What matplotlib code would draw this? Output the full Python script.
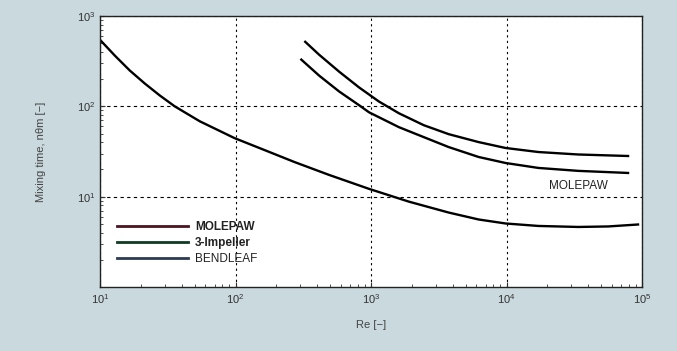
import matplotlib
matplotlib.use('Agg')
import matplotlib.pyplot as plt
from matplotlib.lines import Line2D
from matplotlib.ticker import LogLocator, LogFormatterMathtext, NullFormatter

plt.rcParams['font.family'] = ['Liberation Sans', 'DejaVu Sans']

# values (log-log)
re_bend = [10, 12.9, 16.6, 21.4, 27.6, 35.6, 54.4, 98.3, 163, 272, 491, 967, 1903,
           3745, 6225, 9830, 17190, 33840, 56230, 93460]
t_bend = [545, 363, 249, 179, 132, 100, 68.4, 44.5, 32.9, 24.2, 17.4, 12.2, 8.81,
          6.67, 5.59, 5.05, 4.74, 4.62, 4.68, 4.92]

re_imp = [327, 414, 582, 816, 1145, 1607, 2453, 3745, 6225, 9830, 17190, 33840, 78900]
t_imp = [518, 373, 242, 162, 113, 83.8, 61.8, 49.2, 40.2, 34.6, 31.2, 29.3, 28.2]

re_mole = [306, 414, 582, 816, 967, 1607, 2453, 3745, 6225, 9830, 17190, 33840, 78900]
t_mole = [329, 219, 146, 103, 85.9, 58.8, 45.6, 35.4, 27.5, 23.6, 20.8, 19.3, 18.3]

legend_names = ['MOLEPAW', '3-Impeller', 'BENDLEAF']
legend_colors = ['#4a1420', '#0f3a24', '#2c3a52']

fig = plt.figure(figsize=(6.77, 3.51), dpi=100, facecolor='#c9d9dd')
ax = fig.add_axes([100/677, 1 - 287/351, 542/677, 271/351])
ax.set_facecolor('white')

ax.plot(re_bend, t_bend, color='black', lw=1.7)
ax.plot(re_imp, t_imp, color='black', lw=1.7)
ax.plot(re_mole, t_mole, color='black', lw=1.7)

ax.set_xscale('log')
ax.set_yscale('log')
ax.set_xlim(10, 1e5)
ax.set_ylim(1, 1e3)

ax.xaxis.set_major_locator(LogLocator(base=10, numticks=10))
ax.xaxis.set_major_formatter(LogFormatterMathtext())
ax.yaxis.set_major_formatter(LogFormatterMathtext())
ax.yaxis.set_minor_formatter(NullFormatter())
ax.xaxis.set_minor_formatter(NullFormatter())
ax.set_yticks([10, 100, 1000])
ax.tick_params(which='both', direction='in', labelsize=8, colors='#333333')
ax.tick_params(which='minor', length=2)

ax.xaxis.grid(True, which='major', color='black', linestyle=(0, (2, 3)), lw=0.8)
ax.yaxis.grid(True, which='major', color='black', linestyle=(0, (3, 3)), lw=0.8)
for s in ax.spines.values():
    s.set_color('#222222')
    s.set_linewidth(1.0)

ax.set_xlabel('Re [\u2212]', fontsize=8, color='#444444', labelpad=10)
ax.set_ylabel('Mixing time, n\u03b8m [\u2212]', fontsize=8, color='#444444', labelpad=22)

ax.text(34000, 13.2, 'MOLEPAW', fontsize=8.5, ha='center', va='center', color='#222222')

handles = [Line2D([], [], color=c, lw=2) for c in legend_colors]
leg = ax.legend(handles, legend_names, loc='upper left', bbox_to_anchor=(0.023, 0.262),
                frameon=False, fontsize=8.5, handlelength=6, labelspacing=0.35,
                handletextpad=0.6, borderaxespad=0)
for t, w in zip(leg.get_texts(), ['bold', 'bold', 'normal']):
    t.set_fontweight(w)
    t.set_color('#222222')

fig.savefig('out.png', dpi=100, facecolor=fig.get_facecolor())
